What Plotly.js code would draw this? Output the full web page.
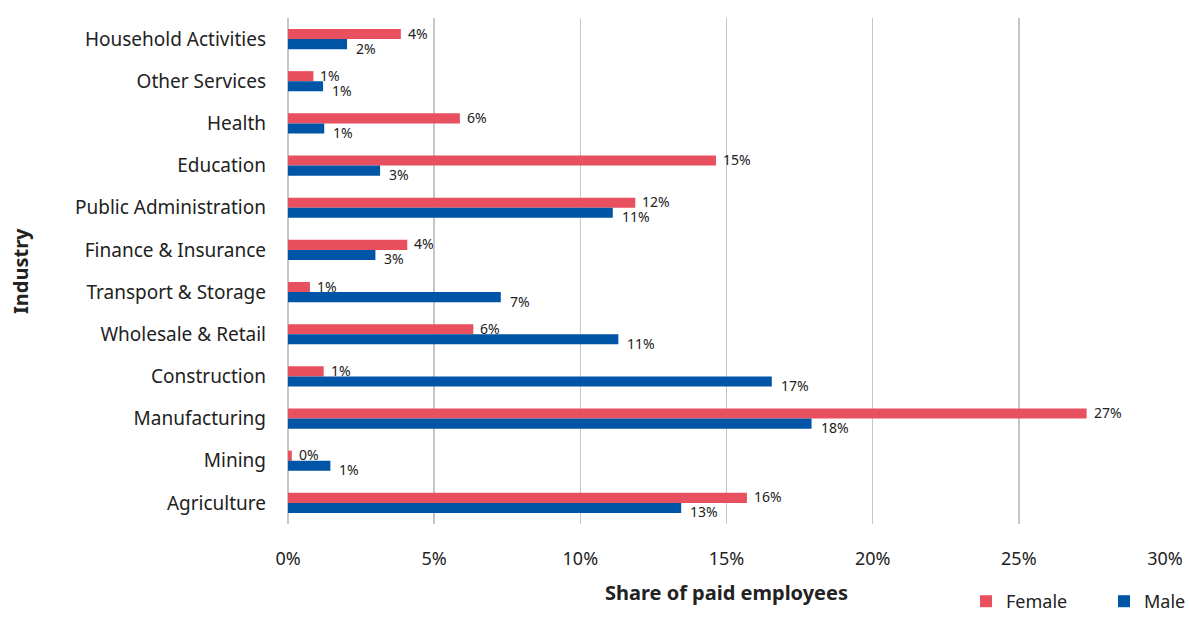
<!DOCTYPE html>
<html>
<head>
<meta charset="utf-8">
<script src="https://cdn.plot.ly/plotly-3.0.1.min.js"></script>
<style>
  html, body { margin: 0; padding: 0; background: #fff; }
  #chart { width: 1189px; height: 620px; }
</style>
</head>
<body>
<div id="chart"></div>
<script>
// Industries, listed from top to bottom
const industries = [
  'Household Activities', 'Other Services', 'Health', 'Education',
  'Public Administration', 'Finance & Insurance', 'Transport & Storage',
  'Wholesale & Retail', 'Construction', 'Manufacturing', 'Mining', 'Agriculture'
];

// Share of paid employees (%) by sex
const female = [3.86, 0.87, 5.88, 14.64, 11.88, 4.08, 0.75, 6.34, 1.22, 27.32, 0.13, 15.70];
const male   = [2.02, 1.20, 1.24, 3.15, 11.11, 2.99, 7.28, 11.30, 16.55, 17.91, 1.45, 13.45];

const xTicks = [0, 5, 10, 15, 20, 25, 30];
const xTickLabels = ['0%', '5%', '10%', '15%', '20%', '25%', '30%'];

const FONT = 'Noto Sans, Open Sans, sans-serif';
const TEXT = '#222222';

// Plot area geometry (pixels) used to place the axis titles and legend entries
const W = 1189, H = 620;
const PLOT_L = 288, PLOT_R = 1165, PLOT_T = 18, PLOT_B = 524;
const plotW = PLOT_R - PLOT_L, plotH = PLOT_B - PLOT_T;

function series(name, values, color, legendId) {
  return {
    type: 'bar',
    orientation: 'h',
    name: name,
    x: values,
    y: industries,
    marker: { color: color },
    legend: legendId,
    hoverinfo: 'x+y+name'
  };
}

const data = [
  series('Female', female, '#E8505F', 'legend'),
  series('Male', male, '#0055A6', 'legend2')
];

// Value labels at the end of each bar: female beside its bar, male just under its bar
function valueLabels(values, xshift, yshift) {
  return values.map((v, i) => ({
    x: v,
    y: industries[i],
    xref: 'x',
    yref: 'y',
    text: Math.round(v) + '%',
    xanchor: 'left',
    yanchor: 'middle',
    xshift: xshift,
    yshift: yshift,
    showarrow: false,
    font: { family: FONT, size: 14, color: TEXT }
  }));
}

const annotations = [
  ...valueLabels(female, 5, 6),
  ...valueLabels(male, 7, -9),
  {
    text: '<b>Share of paid employees</b>',
    xref: 'paper', yref: 'paper',
    x: 0.5, y: (PLOT_B - 592) / plotH,
    xanchor: 'center', yanchor: 'middle',
    showarrow: false,
    font: { family: FONT, size: 20, color: TEXT }
  },
  {
    text: '<b>Industry</b>',
    xref: 'paper', yref: 'paper',
    x: (20 - PLOT_L) / plotW, y: 0.5,
    xanchor: 'center', yanchor: 'middle',
    textangle: -90,
    showarrow: false,
    font: { family: FONT, size: 20, color: TEXT }
  }
];

// One legend box per series, side by side along the bottom edge
function legendBox(leftPx) {
  return {
    orientation: 'h',
    xref: 'container',
    yref: 'container',
    x: leftPx / W,
    xanchor: 'left',
    y: 0,
    yanchor: 'bottom',
    font: { family: FONT, size: 18, color: TEXT },
    itemwidth: 30,
    bgcolor: 'rgba(0,0,0,0)'
  };
}

const layout = {
  width: W,
  height: H,
  margin: { l: PLOT_L, r: W - PLOT_R, t: PLOT_T, b: H - PLOT_B, autoexpand: false },
  paper_bgcolor: '#ffffff',
  plot_bgcolor: '#ffffff',
  font: { family: FONT, color: TEXT },
  barmode: 'group',
  bargap: 0.52,
  bargroupgap: 0,
  xaxis: {
    range: [0, 30],
    tickvals: xTicks,
    ticktext: xTickLabels,
    showgrid: true,
    gridcolor: '#c6c6c6',
    gridwidth: 1.5,
    zeroline: true,
    zerolinecolor: '#c6c6c6',
    zerolinewidth: 1.5,
    showline: false,
    ticks: '',
    ticklabelstandoff: 22,
    tickfont: { family: FONT, size: 18, color: TEXT },
    automargin: false,
    fixedrange: true
  },
  yaxis: {
    type: 'category',
    autorange: 'reversed',
    showgrid: false,
    showline: false,
    zeroline: false,
    ticks: '',
    ticklabelstandoff: 21,
    tickfont: { family: FONT, size: 19, color: TEXT },
    automargin: false,
    fixedrange: true
  },
  annotations: annotations,
  showlegend: true,
  legend: legendBox(966),
  legend2: legendBox(1104)
};

Plotly.newPlot('chart', data, layout, { displayModeBar: false, staticPlot: true });
</script>
</body>
</html>
